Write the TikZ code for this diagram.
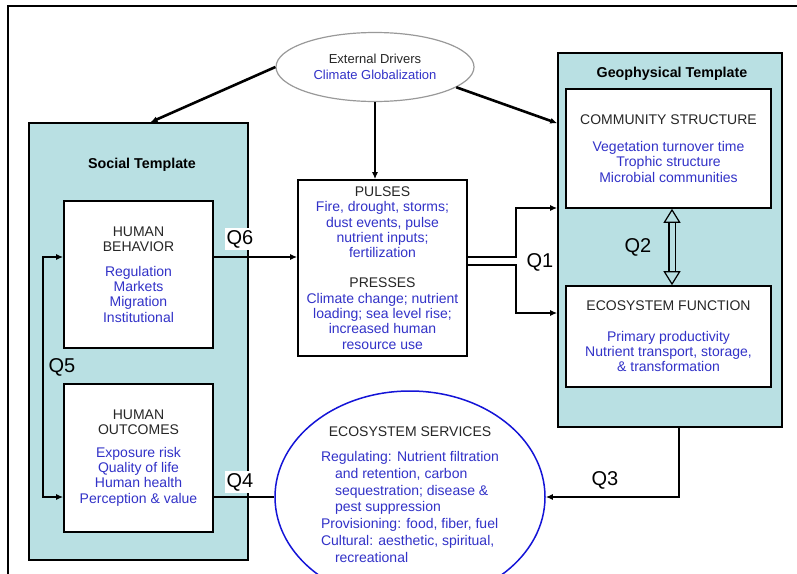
\documentclass[tikz,border=0pt]{standalone}
\usepackage{fontspec}
\setmainfont{Liberation Sans}
\usetikzlibrary{shapes.geometric,arrows.meta,calc}
\definecolor{panelteal}{RGB}{185,224,227}
\definecolor{itemblue}{RGB}{50,50,200}
\definecolor{ringblue}{RGB}{20,20,215}
\newcommand{\boxhead}[1]{\textcolor{black!85}{#1}}
\tikzset{panel/.style = {draw, line width=1.6pt, fill=panelteal, inner sep=0pt},
         box/.style = {draw, line width=1.6pt, fill=white, align=center, inner sep=0pt, text=itemblue},
         link/.style = {line width=2pt, -{Latex[length=7pt,width=6pt]}},
         qlabel/.style = {font=\fontsize{20}{22}\selectfont, inner sep=2pt},
         paneltitle/.style = {font=\fontsize{14.3}{17}\selectfont\bfseries}}

\begin{document}
\begin{tikzpicture}[x=1pt, y=-1pt, font=\fontsize{14}{15.3}\selectfont]
  \clip (0,0) rectangle (797,573);
  \draw[line width=2.4pt] (8,590) -- (8,6) -- (810,6);

  \node[panel, minimum width=219pt, minimum height=437pt] (social) at (138.5,341.5) {};
  \node[paneltitle] (socialtitle) at (142,165) {Social Template};
  \node[panel, minimum width=224pt, minimum height=374pt] (geo) at (670,240) {};
  \node[paneltitle] (geotitle) at (672,74) {Geophysical Template};

  \node[ellipse, draw=gray!80, line width=1.2pt, fill=white, align=center, inner sep=0pt, text=itemblue,
        minimum width=198pt, minimum height=69pt, font=\fontsize{13}{15.5}\selectfont] (drivers) at (375,67)
        {\boxhead{External Drivers}\\Climate Globalization};

  \node[box, minimum width=149pt, minimum height=147pt] (behavior) at (138.5,274.5)
        {\boxhead{HUMAN}\\\boxhead{BEHAVIOR}\\[9pt]Regulation\\Markets\\Migration\\Institutional};
  \node[box, minimum width=149pt, minimum height=148pt] (outcomes) at (138.5,458)
        {\boxhead{HUMAN}\\\boxhead{OUTCOMES}\\[7pt]Exposure risk\\Quality of life\\Human health\\Perception \& value};
  \node[box, minimum width=169pt, minimum height=176pt] (pulses) at (382.5,268)
        {\boxhead{PULSES}\\Fire, drought, storms;\\dust events, pulse\\nutrient inputs;\\fertilization\\[15pt]
         \boxhead{PRESSES}\\Climate change; nutrient\\loading; sea level rise;\\increased human\\resource use};
  \node[box, minimum width=205pt, minimum height=119pt] (community) at (668.5,148.5)
        {\boxhead{COMMUNITY STRUCTURE}\\[12pt]Vegetation turnover time\\Trophic structure\\Microbial communities};
  \node[box, minimum width=205pt, minimum height=101pt] (function) at (668.5,336.5)
        {\boxhead{ECOSYSTEM FUNCTION}\\[15pt]Primary productivity\\Nutrient transport, storage,\\\& transformation};

  \node[ellipse, draw=ringblue, line width=1.5pt, fill=white, align=center, inner sep=0pt, text=itemblue,
        minimum width=270pt, minimum height=212pt, font=\fontsize{14}{16.8}\selectfont] (services) at (410,497)
        {\boxhead{ECOSYSTEM SERVICES}\\[12pt]
         \begin{tabular}{@{}l@{}}
         Regulating: Nutrient filtration\\
         \quad and retention, carbon\\
         \quad sequestration; disease \&\\
         \quad pest suppression\\
         Provisioning: food, fiber, fuel\\
         Cultural: aesthetic, spiritual,\\
         \quad recreational
         \end{tabular}};

  \coordinate (q6start) at ([yshift=17.5pt]behavior.east);
  \coordinate (q1up) at (516,208);
  \coordinate (q1down) at (516,313);

  \draw[link, line width=2.6pt] (drivers.west) -- ([xshift=12pt]social.north);
  \draw[link, line width=2.6pt] (drivers.south) -- (drivers.south |- pulses.north);
  \draw[link, line width=2.6pt] (drivers.-14) -- ([yshift=-71pt]geo.north west);

  \draw[link] (q6start) -- (q6start -| pulses.west);
  \draw[line width=2pt, {Latex[length=7pt,width=6pt]}-{Latex[length=7pt,width=6pt]}]
    ([yshift=17.5pt]behavior.west) -- ++(-20,0) |- ([yshift=-39pt]outcomes.west);
  \draw[line width=2pt] ([yshift=-39pt]outcomes.east) -- (services.west);
  \draw[link, line width=2.4pt] ([yshift=11pt]pulses.east) -| (q1up) -- (q1up -| geo.west);
  \draw[link, line width=2.4pt] ([yshift=3pt]pulses.east) -| (q1down) -- (q1down -| geo.west);
  \draw[line width=1.2pt, double=panelteal, double distance=5pt,
        {Triangle[length=14pt,width=17pt,fill=panelteal]}-{Triangle[length=14pt,width=17pt,fill=panelteal]}]
    ([xshift=3.5pt]community.south) -- ([xshift=3.5pt]function.north);
  \draw[link] ([xshift=9pt]geo.south) |- (services.east);

  \node[qlabel, fill=white] (q6) at (240,239) {Q6};
  \node[qlabel] (q5) at (62,367) {Q5};
  \node[qlabel, fill=white] (q4) at (240,482) {Q4};
  \node[qlabel] (q1) at (540,262) {Q1};
  \node[qlabel] (q2) at (638,247) {Q2};
  \node[qlabel] (q3) at (605,480) {Q3};
\end{tikzpicture}
\end{document}
